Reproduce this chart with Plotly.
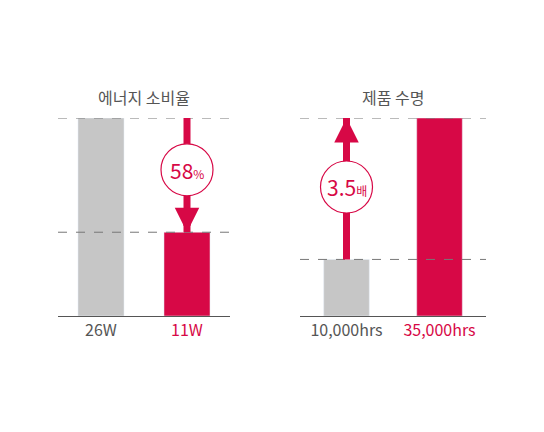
import plotly.graph_objects as go
from plotly.subplots import make_subplots

titles = ["에너지 소비율", "제품 수명"]
left_labels = ["26W", "11W"]
left_values = [26, 11]
right_labels = ["10,000hrs", "35,000hrs"]
right_values = [10000, 35000]
left_badge = "58"; left_unit = "%"
right_badge = "3.5"; right_unit = "배"

GRAY = "#c6c6c6"; RED = "#d70846"; TXT = "#555555"
FONT = "Noto Sans CJK KR"
O = 8  # page offset
W, H = 544, 432
fig = make_subplots(rows=1, cols=2)
fig.add_bar(x=[0, 1], y=left_values, marker_color=[GRAY, RED], width=0.535, row=1, col=1)
fig.add_bar(x=[0, 1], y=right_values, marker_color=[GRAY, RED], width=0.49, row=1, col=2)

def tl(labels):
    return [labels[0], f"<span style='color:{RED}'>{labels[1]}</span>"]

y0, y1 = 1 - (316 - O)/H, 1 - (118 - O)/H
fig.update_layout(
    width=W, height=H, margin=dict(l=0, r=0, t=0, b=0), showlegend=False,
    plot_bgcolor="white", paper_bgcolor="white", font=dict(family=FONT, color=TXT),
    xaxis=dict(domain=[(58-O)/W, (230-O)/W], range=[-0.5, 1.5], tickvals=[0, 1], ticktext=tl(left_labels)),
    xaxis2=dict(domain=[(300-O)/W, (486-O)/W], range=[-0.5, 1.5], tickvals=[0, 1], ticktext=tl(right_labels)),
    yaxis=dict(domain=[y0, y1], range=[0, max(left_values)], visible=False),
    yaxis2=dict(domain=[y0, y1], range=[0, max(right_values)], visible=False),
)
fig.update_xaxes(showline=True, linecolor="#555", linewidth=1, showgrid=False, ticks="",
                 tickfont=dict(size=16, color=TXT, family=FONT))

for xr, yr, vals, title in [("x", "y", left_values, titles[0]), ("x2", "y2", right_values, titles[1])]:
    for v in vals:
        fig.add_shape(type="line", xref=xr + " domain", yref=yr, x0=0, x1=1, y0=v, y1=v,
                      line=dict(color="#777", width=1, dash="dash"), layer="above")
    fig.add_annotation(x=0.5, y=1 + 21/198, xref=xr + " domain", yref=yr + " domain", text=title,
                       showarrow=False, yanchor="middle", font=dict(size=16, color=TXT, family=FONT))

def arrow(xr, yr, xv, start, end, direction):
    # shaft
    fig.add_shape(type="line", xref=xr, yref=yr, x0=xv, x1=xv, y0=start, y1=end,
                  line=dict(color=RED, width=7), layer="above")
    # head
    fig.add_annotation(x=xv, y=end, xref=xr, yref=yr, ax=0, ay=-22 * direction, text="",
                       showarrow=True, arrowhead=2, arrowsize=0.7, arrowwidth=7, arrowcolor=RED, standoff=0)

def badge(xr, yr, xv, yv, big, small):
    fig.add_shape(type="circle", xref=xr, yref=yr, xsizemode="pixel", ysizemode="pixel",
                  xanchor=xv, yanchor=yv, x0=-26, x1=26, y0=-26, y1=26,
                  fillcolor="white", line=dict(color=RED, width=1.2), layer="above")
    fig.add_annotation(x=xv, y=yv, xref=xr, yref=yr, showarrow=False,
                       text=f"{big}<span style='font-size:12px'>{small}</span>",
                       font=dict(size=21, color=RED, family=FONT))

arrow("x", "y", 1, left_values[0], left_values[1], 1)
arrow("x2", "y2", 0, right_values[0], right_values[1], -1)
badge("x", "y", 1, 19.2, left_badge, left_unit)
badge("x2", "y2", 0, 22800, right_badge, right_unit)

fig.write_html("out.html")
